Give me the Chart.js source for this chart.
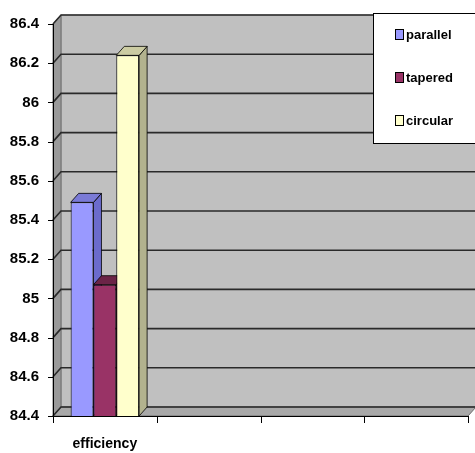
<!DOCTYPE html>
<html>
<head>
<meta charset="utf-8">
<title>efficiency</title>
<script src="https://cdn.jsdelivr.net/npm/chart.js@4.4.0/dist/chart.umd.min.js"></script>
<style>
  html, body { margin: 0; padding: 0; background: #ffffff; }
  #wrap { width: 475px; height: 453px; }
</style>
</head>
<body>
<div id="wrap"><canvas id="chart" width="475" height="453"></canvas></div>
<script>
// Data
const categories = ['efficiency', '', '', ''];
const seriesNames = ['parallel', 'tapered', 'circular'];
const parallelValues = [85.49, null, null, null];
const taperedValues = [85.07, null, null, null];
const circularValues = [86.24, null, null, null];
const yTicks = [84.4, 84.6, 84.8, 85, 85.2, 85.4, 85.6, 85.8, 86, 86.2, 86.4];

// Face colours for each series: front, side, top
const frontColors = ['#9999FF', '#993366', '#FFFFCC'];
const sideColors = ['#6B6BCC', '#6E2449', '#B2B28E'];
const topColors = ['#7A7AD6', '#6B2447', '#CCCCA3'];

const FONT = "'Liberation Sans', Arial, sans-serif";
const DEPTH = { x: 8, y: -9 };

function poly(ctx, pts, fill, stroke, lw) {
  ctx.beginPath();
  ctx.moveTo(pts[0][0], pts[0][1]);
  for (let i = 1; i < pts.length; i++) ctx.lineTo(pts[i][0], pts[i][1]);
  ctx.closePath();
  if (fill) { ctx.fillStyle = fill; ctx.fill(); }
  if (stroke) { ctx.strokeStyle = stroke; ctx.lineWidth = lw || 1; ctx.stroke(); }
}

// Walls, floor, gridlines, axes and the side/top faces of the columns
const boxPlugin = {
  id: 'box3d',
  beforeDatasetsDraw(chart) {
    const { ctx, chartArea: { left, right, top, bottom } } = chart;
    const yScale = chart.scales.y;
    const dx = DEPTH.x, dy = DEPTH.y;
    ctx.save();

    // back wall
    poly(ctx, [[left + dx, top + dy], [right + dx, top + dy], [right + dx, bottom + dy], [left + dx, bottom + dy]], '#C0C0C0', '#8C8C8C', 1);
    // side wall
    poly(ctx, [[left, top], [left + dx, top + dy], [left + dx, bottom + dy], [left, bottom]], '#9A9A9A', '#6E6E6E', 1);
    // floor
    poly(ctx, [[left, bottom], [left + dx, bottom + dy], [right + dx, bottom + dy], [right, bottom]], '#A8A8A8', '#6E6E6E', 1);

    // gridlines across side wall and back wall
    ctx.strokeStyle = '#2A2A2A';
    ctx.lineWidth = 1.6;
    yTicks.forEach(v => {
      const y = yScale.getPixelForValue(v);
      ctx.beginPath();
      ctx.moveTo(left, y);
      ctx.lineTo(left + dx, y + dy);
      ctx.lineTo(right + dx, y + dy);
      ctx.stroke();
    });

    // front axis lines and tick marks
    ctx.strokeStyle = '#000000';
    ctx.lineWidth = 1;
    ctx.beginPath();
    ctx.moveTo(left + 0.5, top);
    ctx.lineTo(left + 0.5, bottom + 0.5);
    ctx.lineTo(right, bottom + 0.5);
    ctx.stroke();
    yTicks.forEach(v => {
      const y = Math.round(yScale.getPixelForValue(v)) + 0.5;
      ctx.beginPath();
      ctx.moveTo(left - 5, y);
      ctx.lineTo(left, y);
      ctx.stroke();
    });
    const n = categories.length;
    for (let i = 0; i <= n; i++) {
      const x = Math.round(left + (right - left) * i / n) + 0.5;
      ctx.beginPath();
      ctx.moveTo(x, bottom);
      ctx.lineTo(x, bottom + 7);
      ctx.stroke();
    }

    // column depth faces, painted left to right
    chart.data.datasets.forEach((ds, di) => {
      const meta = chart.getDatasetMeta(di);
      meta.data.forEach((el, idx) => {
        if (ds.data[idx] === null) return;
        const p = el.getProps(['x', 'y', 'base', 'width'], true);
        const base = Math.min(p.base, bottom);
        const l = p.x - p.width / 2, r = p.x + p.width / 2;
        poly(ctx, [[r, p.y], [r + dx, p.y + dy], [r + dx, base + dy], [r, base]], sideColors[di], '#000000', 0.8);
        poly(ctx, [[l, p.y], [l + dx, p.y + dy], [r + dx, p.y + dy], [r, p.y]], topColors[di], '#000000', 0.8);
      });
    });
    ctx.restore();
  },
  afterDraw(chart) {
    const { ctx } = chart;
    ctx.save();
    // legend box
    ctx.fillStyle = '#FFFFFF';
    ctx.fillRect(373, 13, 104, 130);
    ctx.strokeStyle = '#000000';
    ctx.lineWidth = 1;
    ctx.strokeRect(373.5, 13.5, 104, 130);
    ctx.font = "bold 13px " + FONT;
    ctx.textBaseline = 'middle';
    ctx.textAlign = 'left';
    chart.data.datasets.forEach((ds, di) => {
      const cy = 35 + di * 43;
      ctx.fillStyle = frontColors[di];
      ctx.fillRect(395.5, cy - 5.5, 8, 10);
      ctx.strokeStyle = '#000000';
      ctx.strokeRect(395.5, cy - 5.5, 8, 10);
      ctx.fillStyle = '#000000';
      ctx.fillText(ds.label, 406, cy);
    });
    ctx.restore();
  }
};

new Chart(document.getElementById('chart'), {
  type: 'bar',
  data: {
    labels: categories,
    datasets: [
      { label: seriesNames[0], data: parallelValues, backgroundColor: frontColors[0] },
      { label: seriesNames[1], data: taperedValues, backgroundColor: frontColors[1] },
      { label: seriesNames[2], data: circularValues, backgroundColor: frontColors[2] }
    ]
  },
  options: {
    responsive: false,
    animation: false,
    devicePixelRatio: 1,
    layout: { padding: { top: 24, right: 7, left: 0, bottom: 0 } },
    datasets: {
      bar: {
        borderColor: '#000000',
        borderWidth: 1,
        borderSkipped: false,
        barPercentage: 1,
        categoryPercentage: 0.66
      }
    },
    plugins: {
      legend: { display: false },
      tooltip: { enabled: false }
    },
    scales: {
      x: {
        grid: { display: false, drawTicks: false },
        border: { display: false },
        ticks: { color: '#000000', padding: 20, font: { family: FONT, size: 14, weight: 'bold' } },
        afterFit(s) { s.height = 37; }
      },
      y: {
        min: 84.4,
        max: 86.4,
        grid: { display: false, drawTicks: false },
        border: { display: false },
        ticks: {
          stepSize: 0.2,
          color: '#000000',
          padding: 14,
          font: { family: FONT, size: 15, weight: 'bold' },
          callback: v => String(+v.toFixed(1))
        },
        afterFit(s) { s.width = 53; }
      }
    }
  },
  plugins: [boxPlugin]
});
</script>
</body>
</html>
